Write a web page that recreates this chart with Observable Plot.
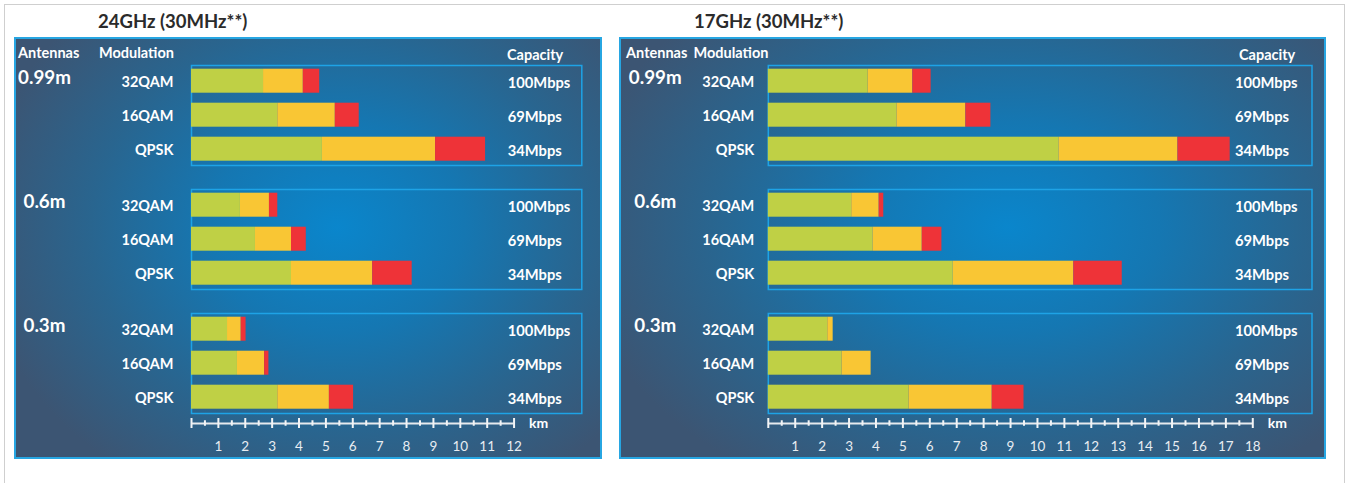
<!DOCTYPE html>
<html>
<head>
<meta charset="utf-8">
<script src="https://cdn.jsdelivr.net/npm/d3@7"></script>
<script src="https://cdn.jsdelivr.net/npm/@observablehq/plot@0.6"></script>
<style>
  body { margin:0; background:#fff; font-family: Lato, "Open Sans", sans-serif; }
  #page { position:relative; width:1346px; height:483px; overflow:hidden; }
  .abs { position:absolute; white-space:nowrap; }
  .lbl { position:absolute; white-space:nowrap; transform:translateY(-50%); color:#fff; font-weight:700; font-size:14.5px; }
  .title { position:absolute; white-space:nowrap; transform:translateY(-50%); color:#2b2b2b; font-weight:700; font-size:18.5px; }
  .panel { position:absolute; box-sizing:border-box; border:2px solid #27a6e2;
    background: radial-gradient(ellipse 62% 72% at 55% 45%, #0a86cc 0%, #1577b2 35%, #29658f 68%, #3c5573 100%); }
  svg { overflow:visible; }
</style>
</head>
<body>
<div id="page"></div>
<script>
// ---------- data ----------
const antennas = ["0.99m", "0.6m", "0.3m"];
const modulations = ["32QAM", "16QAM", "QPSK"];
const capacities = ["100Mbps", "69Mbps", "34Mbps"];
const zones = ["zone1", "zone2", "zone3"];
const zoneColors = ["#bfd045", "#f9c634", "#ee3338"];

// 24GHz: cumulative end distance (km) of each colour zone, rows = antenna x modulation
const ghz24Green  = [2.68, 3.21, 4.87,  1.82, 2.38, 3.72,  1.34, 1.71, 3.21];
const ghz24Yellow = [4.16, 5.35, 9.08,  2.90, 3.72, 6.74,  1.85, 2.72, 5.13];
const ghz24Red    = [4.77, 6.24, 10.94, 3.21, 4.27, 8.21,  2.03, 2.88, 6.03];

// 17GHz
const ghz17Green  = [3.71, 4.78, 10.80, 3.10, 3.89, 6.87,  2.21, 2.74, 5.23];
const ghz17Yellow = [5.37, 7.34, 15.22, 4.12, 5.72, 11.35, 2.41, 3.82, 8.32];
const ghz17Red    = [6.05, 8.27, 17.16, 4.29, 6.45, 13.15, 2.41, 3.82, 9.50];

const titles = ["24GHz (30MHz**)", "17GHz (30MHz**)"];
const axisMax = [12, 18];

// ---------- layout ----------
const page = document.getElementById("page");
function add(cls, text, left, top, extra) {
  const d = document.createElement("div");
  d.className = cls; d.textContent = text;
  d.style.left = left + "px"; d.style.top = top + "px";
  if (extra) Object.assign(d.style, extra);
  page.appendChild(d); return d;
}
// page border
add("abs", "", 4, 4, {width:"1339px", height:"520px", border:"1px solid #cfcfcf"});

function buildPanel(cfg) {
  const {left, top, width, height, marginLeft, marginRight, xMax, kmMax,
         green, yellow, red, title, titleX, antX, modX, capX, modDx, capDx, antDx} = cfg;
  add("panel", "", left, top, {width: width + "px", height: height + "px"});
  add("title", title, titleX, 21);
  add("lbl", "Antennas", antX, 52);
  add("lbl", "Modulation", modX, 52);
  add("lbl", "Capacity", capX, 53.5);

  const rows = [];
  const labels = [];
  antennas.forEach((a, i) => modulations.forEach((m, j) => {
    const k = i * 3 + j;
    const ends = [green[k], yellow[k], red[k]];
    let prev = 0;
    zones.forEach((z, zi) => {
      if (ends[zi] > prev) rows.push({antenna: a, mod: m, zone: z, x1: prev, x2: ends[zi]});
      prev = Math.max(prev, ends[zi]);
    });
    labels.push({antenna: a, mod: m, cap: capacities[j]});
  }));
  const antRows = antennas.map(a => ({antenna: a}));

  const svg = Plot.plot({
    width, height,
    marginLeft, marginRight, marginTop: 27.3, marginBottom: 44.9,
    style: {background: "transparent", fontFamily: "Lato, 'Open Sans', sans-serif", overflow: "visible"},
    x: {domain: [0, xMax], axis: null},
    y: {domain: modulations, axis: null, paddingInner: 0.3, paddingOuter: 0.08},
    fy: {domain: antennas, axis: null, paddingInner: 0.193, paddingOuter: 0},
    color: {type: "ordinal", domain: zones, range: zoneColors},
    marks: [
      Plot.frame({stroke: "#1ea3e6", strokeWidth: 1.5}),
      Plot.barX(rows, {x1: "x1", x2: "x2", y: "mod", fy: "antenna", fill: "zone"}),
      Plot.text(labels, {x: 0, y: "mod", fy: "antenna", text: "mod", textAnchor: "end", dx: modDx, dy: 1,
        fill: "#fff", fontWeight: 700, fontSize: 14.5}),
      Plot.text(labels, {frameAnchor: "right", y: "mod", fy: "antenna", text: "cap", textAnchor: "start", dx: capDx, dy: 2,
        fill: "#fff", fontWeight: 700, fontSize: 14.7}),
      Plot.text(antRows, {frameAnchor: "top-left", fy: "antenna", text: "antenna", textAnchor: "middle", lineAnchor: "middle",
        dx: antDx, dy: 12, fill: "#fff", fontWeight: 700, fontSize: 18.8})
    ]
  });
  svg.style.position = "absolute";
  svg.style.left = left + "px";
  svg.style.top = top + "px";
  page.appendChild(svg);

  // km axis
  const major = d3.range(0, kmMax + 1);
  const minor = d3.range(0.5, kmMax, 1);
  const tickLabels = d3.range(1, kmMax + 1);
  const ax = Plot.plot({
    width, height: 50, marginLeft, marginRight, marginTop: 5, marginBottom: 35,
    style: {background: "transparent", fontFamily: "Lato, 'Open Sans', sans-serif", overflow: "visible"},
    x: {domain: [0, xMax], axis: null},
    y: {domain: [-1, 1], axis: null},
    marks: [
      Plot.ruleY([0], {x1: 0, x2: kmMax, stroke: "#e6eaee", strokeWidth: 2}),
      Plot.ruleX(major, {x: d => d, y1: -1, y2: 1, stroke: "#f2f4f6", strokeWidth: 2}),
      Plot.ruleX(minor, {x: d => d, y1: -0.55, y2: 0.55, stroke: "#f2f4f6", strokeWidth: 2}),
      Plot.text(tickLabels, {x: d => d, y: -1, text: d => String(d), dy: 18, fill: "#e8edf2", fontSize: 13.5}),
      Plot.text(["km"], {x: kmMax, y: 0, text: d => d, textAnchor: "start", dx: 15, fill: "#fff", fontWeight: 700, fontSize: 14}),
    ]
  });
  ax.style.position = "absolute";
  ax.style.left = left + "px";
  ax.style.top = "413.3px";
  page.appendChild(ax);
}

buildPanel({
  left: 14, top: 37, width: 588, height: 422,
  marginLeft: 177, marginRight: 20.7, xMax: 14.52, kmMax: axisMax[0],
  green: ghz24Green, yellow: ghz24Yellow, red: ghz24Red,
  title: titles[0], titleX: 98, antX: 18, modX: 99, capX: 507,
  modDx: -18, capDx: -74, antDx: -147
});
buildPanel({
  left: 618.5, top: 37, width: 707.5, height: 422,
  marginLeft: 148.8, marginRight: 15, xMax: 20.2, kmMax: axisMax[1],
  green: ghz17Green, yellow: ghz17Yellow, red: ghz17Red,
  title: titles[1], titleX: 694, antX: 626, modX: 693.5, capX: 1239,
  modDx: -14, capDx: -77, antDx: -113
});
</script>
</body>
</html>
